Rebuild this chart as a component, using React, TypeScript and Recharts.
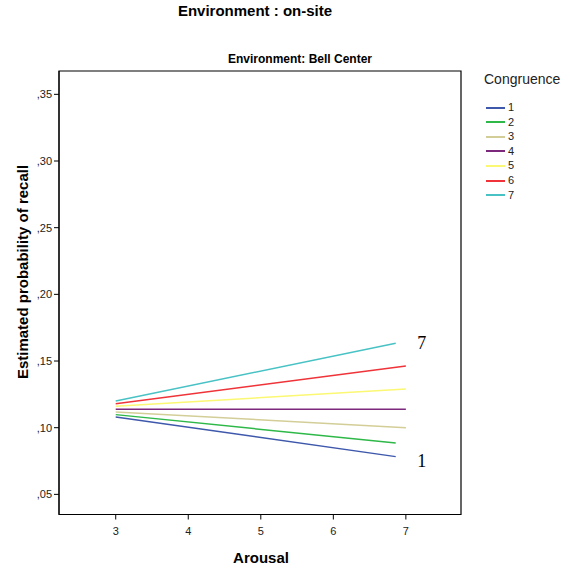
import React from 'react';
import { LineChart, Line, XAxis, YAxis, ReferenceArea } from 'recharts';

const congruenceLevels = ['1', '2', '3', '4', '5', '6', '7'];
const seriesColors = ['#3e58ac', '#2eb848', '#d3ce97', '#7c287d', '#fbf873', '#ef3338', '#48c2c5'];
const arousalStart = [3, 3, 3, 3, 3, 3, 3];
const arousalEnd = [6.86, 6.86, 7, 7, 7, 7, 6.86];
const recallAtStart = [0.108, 0.1098, 0.1118, 0.1138, 0.116, 0.118, 0.12];
const recallAtEnd = [0.0783, 0.0885, 0.1, 0.1138, 0.129, 0.1463, 0.1633];
const xTicks = [3, 4, 5, 6, 7];
const yTicks = [0.05, 0.1, 0.15, 0.2, 0.25, 0.3, 0.35];
const xDomain: [number, number] = [2.218, 7.76];
const yDomain: [number, number] = [0.0349, 0.3675];

const seriesData = congruenceLevels.map((c, i) => [
  { arousal: arousalStart[i], recall: recallAtStart[i] },
  { arousal: arousalEnd[i], recall: recallAtEnd[i] },
]);

const labelled = new Set(['1', '7']);

const fmtY = (v: number) => ',' + v.toFixed(2).split('.')[1];

const sans = '"Liberation Sans", Arial, sans-serif';

const XTick = (p: any) => (
  <text x={p.x} y={p.y + 13} textAnchor="middle" fontSize={11} fill="#222" fontFamily={sans}>
    {p.payload.value}
  </text>
);

export default function App() {
  return (
    <div style={{ position: 'absolute', left: 0, top: 0, width: 570, height: 569, background: '#fff', fontFamily: sans }}>
      <LineChart width={570} height={569} margin={{ top: 71, right: 109, left: 0, bottom: 0 }}>
        <XAxis
          dataKey="arousal"
          type="number"
          domain={xDomain}
          ticks={xTicks}
          allowDataOverflow
          height={54.5}
          stroke="#000"
          tickSize={5}
          tick={<XTick />}
        />
        <YAxis
          dataKey="recall"
          type="number"
          domain={yDomain}
          ticks={yTicks}
          allowDataOverflow
          width={59}
          stroke="#000"
          tickSize={5}
          tickFormatter={fmtY}
          tick={{ fontSize: 11, fill: '#222', fontFamily: sans }}
        />
        <ReferenceArea
          x1={xDomain[0]}
          x2={xDomain[1]}
          y1={yDomain[0]}
          y2={yDomain[1]}
          fill="none"
          stroke="#000"
          strokeWidth={1.2}
        />
        {congruenceLevels.map((c, i) => (
          <Line
            key={c}
            data={seriesData[i]}
            dataKey="recall"
            name={c}
            stroke={seriesColors[i]}
            strokeWidth={1.5}
            dot={false}
            isAnimationActive={false}
            label={
              labelled.has(c)
                ? (p: any) =>
                    p.index === seriesData[i].length - 1 ? (
                      <text
                        key={'lbl' + c}
                        x={p.x + 26}
                        y={p.y + (c === '1' ? 4 : 0)}
                        textAnchor="middle"
                        dominantBaseline="central"
                        fontFamily='"Liberation Serif", "Times New Roman", serif'
                        fontSize={18}
                        fill="#000"
                      >
                        {c}
                      </text>
                    ) : null
                : undefined
            }
          />
        ))}
      </LineChart>
      <div style={{ position: 'absolute', left: 0, width: 510, top: 2, textAlign: 'center', fontWeight: 'bold', fontSize: 15, color: '#000' }}>
        Environment : on-site
      </div>
      <div style={{ position: 'absolute', left: 150, width: 300, top: 52, textAlign: 'center', fontWeight: 'bold', fontSize: 12, color: '#000' }}>
        Environment: Bell Center
      </div>
      <div style={{ position: 'absolute', left: 161, width: 200, top: 549, textAlign: 'center', fontWeight: 'bold', fontSize: 15, color: '#000' }}>
        Arousal
      </div>
      <div
        style={{
          position: 'absolute',
          left: 23 - 150,
          top: 272 - 10,
          width: 300,
          height: 20,
          lineHeight: '20px',
          textAlign: 'center',
          fontWeight: 'bold',
          fontSize: 15,
          color: '#000',
          transform: 'rotate(-90deg)',
        }}
      >
        Estimated probability of recall
      </div>
      <div style={{ position: 'absolute', left: 484, top: 71, fontSize: 14, color: '#222' }}>Congruence</div>
      {congruenceLevels.map((c, i) => (
        <div key={c} style={{ position: 'absolute', left: 486, top: 101 + i * 14.6, height: 13, display: 'flex', alignItems: 'center' }}>
          <div style={{ width: 19, height: 2, background: seriesColors[i] }} />
          <span style={{ marginLeft: 3, fontSize: 11, color: '#222', lineHeight: '13px' }}>{c}</span>
        </div>
      ))}
    </div>
  );
}
